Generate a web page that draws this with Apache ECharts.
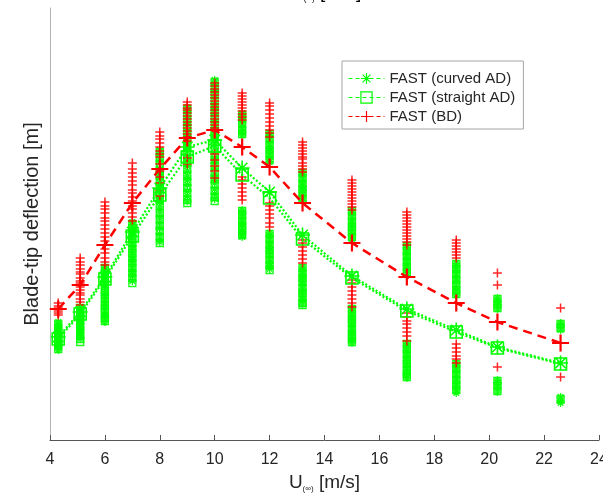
<!DOCTYPE html>
<html>
<head>
<meta charset="utf-8">
<script src="https://cdn.jsdelivr.net/npm/echarts@6/dist/echarts.min.js"></script>
<style>
  html, body { margin: 0; padding: 0; background: #fff; }
  #chart { width: 603px; height: 496px; }
</style>
</head>
<body>
<div id="chart"></div>
<script>
// Mean wind speeds of the load cases [m/s]
const windSpeeds = [4.3, 5.1, 6, 7, 8, 9, 10, 11, 12, 13.2, 15, 17, 18.8, 20.3, 22.6];
const xTicks = [4, 6, 8, 10, 12, 14, 16, 18, 20, 22, 24];

// Mean blade-tip deflection per wind speed [m]
const meanCurvedAD   = [1.03, 1.28, 1.63, 2.08, 2.52, 2.93, 3.00, 2.72, 2.48, 2.05, 1.64, 1.31, 1.10, 0.93, 0.77];
const meanStraightAD = [1.01, 1.26, 1.61, 2.04, 2.45, 2.83, 2.94, 2.65, 2.42, 2.01, 1.62, 1.29, 1.08, 0.92, 0.76];
const meanBD         = [1.31, 1.55, 1.95, 2.37, 2.71, 3.02, 3.10, 2.93, 2.73, 2.37, 1.97, 1.63, 1.37, 1.18, 0.97];

// Individual simulations (one list per wind speed) [m]
const samplesCurvedAD = [
  [1.18,1.15,1.12,1.11,1.08,1.05,1.04,1.01,0.99,0.97,0.94,0.93,0.90],
  [1.33,1.31,1.27,1.25,1.21,1.19,1.16,1.12,1.10,1.07,1.03,1.01],
  [1.73,1.70,1.66,1.63,1.58,1.55,1.52,1.47,1.44,1.40,1.36,1.33,1.28,1.25,1.22,1.18],
  [2.18,2.15,2.11,2.07,2.04,1.99,1.95,1.92,1.88,1.83,1.80,1.76,1.71,1.68,1.64,1.59],
  [2.90,2.86,2.81,2.77,2.71,2.66,2.62,2.57,2.53,2.47,2.42,2.38,2.33,2.28,2.22,2.17,2.12,2.06,2.01,1.98],
  [3.33,3.29,3.24,3.19,3.15,3.09,3.04,3.00,2.95,2.89,2.84,2.80,2.74,2.69,2.64,2.60,2.55,2.49,2.44,2.39],
  [3.60,3.56,3.51,3.47,3.42,3.36,3.32,3.27,3.21,3.17,3.12,3.06,3.02,2.97,2.92,2.87,2.81,2.77,2.72,2.66,2.62,2.57,2.51,2.46,2.41],
  [3.27,3.24,3.20,3.16,3.12,3.08,3.05,2.30,2.27,2.23,2.19,2.16,2.12,2.08,2.05,2.03],
  [3.07,3.04,3.00,2.96,2.92,2.89,2.85,2.81,2.78,2.07,2.04,2.00,1.96,1.93,1.89,1.85,1.81,1.77,1.74,1.71],
  [2.68,2.65,2.61,2.57,2.54,2.50,2.46,2.42,2.39,1.73,1.70,1.66,1.63,1.59,1.55,1.51,1.48,1.44,1.40,1.36],
  [2.30,2.27,2.23,2.19,2.16,2.12,2.08,2.04,2.01,1.32,1.29,1.25,1.22,1.18,1.14,1.10,1.07,1.03,1.00,0.97],
  [1.95,1.92,1.88,1.85,1.81,1.77,1.74,1.70,1.67,0.97,0.94,0.90,0.87,0.83,0.79,0.75,0.72,0.68,0.65,0.62],
  [1.77,1.74,1.70,1.66,1.62,1.58,1.53,1.49,1.45,0.77,0.74,0.70,0.66,0.62,0.58,0.54,0.50,0.47],
  [1.42,1.39,1.35,1.31,0.60,0.57,0.53,0.48],
  [1.17,1.14,1.10,0.43,0.39,0.37]
];
const samplesStraightAD = [
  [1.16,1.12,1.07,1.03,0.99,0.95,0.91],
  [1.32,1.28,1.23,1.19,1.14,1.10,1.05,1.01,0.98],
  [1.72,1.67,1.62,1.59,1.54,1.49,1.45,1.41,1.35,1.31,1.27,1.22,1.19],
  [2.16,2.12,2.06,2.01,1.97,1.91,1.87,1.82,1.77,1.72,1.67,1.62,1.57],
  [2.88,2.82,2.76,2.69,2.64,2.58,2.51,2.45,2.40,2.34,2.27,2.21,2.14,2.09,2.03,1.97],
  [3.31,3.25,3.18,3.12,3.07,3.01,2.94,2.88,2.82,2.77,2.71,2.64,2.58,2.52,2.47,2.40,2.37],
  [3.58,3.52,3.46,3.39,3.33,3.28,3.22,3.15,3.09,3.04,2.98,2.91,2.85,2.80,2.74,2.67,2.61,2.56,2.49,2.43,2.39],
  [3.25,3.21,3.16,3.10,3.06,2.29,2.25,2.19,2.14,2.10,2.05],
  [3.06,3.01,2.95,2.90,2.86,2.80,2.06,2.01,1.95,1.90,1.86,1.80,1.75,1.70],
  [2.67,2.62,2.56,2.51,2.47,2.41,1.72,1.67,1.62,1.58,1.52,1.47,1.43,1.37,1.35],
  [2.29,2.24,2.18,2.13,2.09,2.03,1.31,1.26,1.21,1.17,1.11,1.06,1.02,0.98],
  [1.94,1.89,1.84,1.78,1.73,1.68,0.96,0.91,0.86,0.80,0.76,0.70,0.66,0.63],
  [1.76,1.71,1.66,1.60,1.55,1.50,1.46,0.76,0.71,0.66,0.60,0.55,0.50],
  [1.41,1.36,1.32,0.59,0.54,0.49],
  [1.16,1.12,0.41]
];
const samplesBD = [
  [1.37,1.34,1.32,1.29,1.27,1.25],
  [1.82,1.78,1.75,1.71,1.68,1.66,1.62,1.59,1.57,1.53,1.50,1.47,1.45,1.41,1.38,1.35],
  [2.38,2.34,2.31,2.27,2.22,2.19,2.15,2.11,2.07,2.03,1.99,1.95,1.91,1.87,1.82,1.78,1.75],
  [2.77,2.71,2.67,2.63,2.59,2.55,2.50,2.47,2.43,2.39,2.34,2.31,2.27,2.23,2.19],
  [3.08,3.04,3.01,2.97,2.93,2.89,2.86,2.83,2.76,2.69,2.63,2.57,2.50,2.44],
  [3.38,3.35,3.32,3.30,3.27,3.24,3.21,3.18,3.15,3.12,3.09,3.06,3.03,2.99,2.82,2.76],
  [3.57,3.54,3.51,3.48,3.45,3.42,3.39,3.36,3.33,3.30,3.27,3.24,3.21,3.18,3.15,3.12,2.86,2.80,2.74,2.69,2.62],
  [3.47,3.44,3.41,3.38,3.35,3.32,3.29,3.26,3.23,3.20,2.63,2.60,2.56,2.52,2.48,2.44,2.40],
  [3.37,3.34,3.30,3.26,3.22,3.18,3.14,3.10,3.07,3.03,2.37,2.34,2.30,2.26,2.22,2.17,2.13],
  [2.98,2.95,2.92,2.89,2.86,2.83,2.81,2.77,2.74,2.71,2.68,2.00,1.97,1.93,1.89,1.85,1.81,1.77],
  [2.60,2.57,2.54,2.51,2.48,2.45,2.42,2.39,2.36,2.33,2.30,1.60,1.57,1.53,1.49,1.45,1.41,1.37,1.33],
  [2.28,2.25,2.22,2.19,2.16,2.13,2.10,2.07,2.04,2.01,1.98,1.95,1.27,1.23,1.19,1.16,1.12,1.08,1.04,0.99],
  [2.00,1.97,1.94,1.91,1.88,1.85,1.82,0.96,0.92,0.88,0.84,0.81,0.77],
  [1.67,1.55,0.73],
  [1.32,0.63]
];

const seriesNames = ['FAST (curved AD)', 'FAST (straight AD)', 'FAST (BD)'];

const GREEN = '#00ff00';
const RED = '#ff0000';
const TEXT = '#262626';
const FONT = 'Liberation Sans, Arial, sans-serif';

const PLUS = 'path://M5,0L5,10M0,5L10,5';
const STAR = 'path://M5,0L5,10M0,5L10,5M1.5,1.5L8.5,8.5M1.5,8.5L8.5,1.5';

function toPoints(samples) {
  const pts = [];
  samples.forEach((list, i) => list.forEach(v => pts.push([windSpeeds[i], v])));
  return pts;
}
function toLine(values) {
  return values.map((v, i) => [windSpeeds[i], v]);
}

const subRich = {
  m: { fontSize: 19, fontFamily: FONT, color: TEXT, lineHeight: 20, verticalAlign: 'top' },
  s: { fontSize: 8, fontFamily: FONT, color: TEXT, lineHeight: 6, verticalAlign: 'bottom' }
};

const chart = echarts.init(document.getElementById('chart'), null, { renderer: 'canvas' });
chart.setOption({
  animation: false,
  backgroundColor: '#fff',
  grid: { left: 50, right: 4, top: 8, bottom: 56, containLabel: false, outerBoundsMode: 'none' },
  graphic: [{
    type: 'text',
    left: 290,
    top: -17,
    style: {
      text: '{m|U}{s|(∞)}{m| [m/s]}',
      rich: subRich
    }
  }],
  legend: {
    orient: 'vertical',
    left: 342,
    top: 61,
    padding: [10, 8, 5, 6],
    itemGap: 4,
    itemWidth: 36,
    itemHeight: 14,
    backgroundColor: '#fff',
    borderColor: '#a6a6a6',
    borderWidth: 1,
    borderRadius: 0,
    textStyle: { fontFamily: FONT, fontSize: 15, color: TEXT },
    data: [
      { name: seriesNames[0], itemStyle: { color: 'transparent', borderColor: GREEN, borderWidth: 1.2 }, lineStyle: { color: GREEN, width: 1, type: [4, 3] } },
      { name: seriesNames[1], itemStyle: { color: 'transparent', borderColor: GREEN, borderWidth: 1.2 }, lineStyle: { color: GREEN, width: 1, type: [4, 3] } },
      { name: seriesNames[2], itemStyle: { color: 'transparent', borderColor: RED, borderWidth: 1.2 }, lineStyle: { color: RED, width: 1, type: [4, 3] } }
    ]
  },
  xAxis: {
    type: 'value',
    min: 4,
    max: 24,
    interval: 2,
    name: '{m|U}{s|(∞)}{m| [m/s]}',
    nameLocation: 'middle',
    nameGap: 32,
    nameTextStyle: { rich: subRich },
    axisLine: { onZero: false, lineStyle: { color: '#555', width: 1 } },
    axisTick: { inside: true, length: 5, lineStyle: { color: '#555' } },
    axisLabel: {
      margin: 12,
      fontFamily: FONT,
      fontSize: 16,
      color: TEXT,
      showMaxLabel: true,
      hideOverlap: false,
      formatter: v => (xTicks.includes(v) ? String(v) : '')
    },
    splitLine: { show: false }
  },
  yAxis: {
    type: 'value',
    min: 0,
    max: 4.32,
    name: 'Blade-tip deflection [m]',
    nameLocation: 'middle',
    nameGap: 8,
    nameTextStyle: { fontFamily: FONT, fontSize: 20, color: TEXT },
    axisLine: { show: true, onZero: false, lineStyle: { color: '#b4b4b4', width: 1 } },
    axisTick: { show: false },
    axisLabel: { show: false },
    splitLine: { show: false }
  },
  series: [
    {
      type: 'scatter',
      name: 'curved-samples',
      data: toPoints(samplesCurvedAD),
      symbol: STAR,
      symbolSize: 8,
      itemStyle: { color: 'transparent', borderColor: GREEN, borderWidth: 1.3, opacity: 0.9 },
      z: 2
    },
    {
      type: 'scatter',
      name: 'straight-samples',
      data: toPoints(samplesStraightAD),
      symbol: 'rect',
      symbolSize: 7,
      itemStyle: { color: 'transparent', borderColor: GREEN, borderWidth: 1.3, opacity: 0.9 },
      z: 2
    },
    {
      type: 'scatter',
      name: 'bd-samples',
      data: toPoints(samplesBD),
      symbol: PLUS,
      symbolSize: 9,
      itemStyle: { color: 'transparent', borderColor: RED, borderWidth: 1.5, opacity: 0.85 },
      z: 3
    },
    {
      type: 'line',
      name: seriesNames[0],
      data: toLine(meanCurvedAD),
      symbol: STAR,
      symbolSize: 15,
      showAllSymbol: true,
      lineStyle: { color: GREEN, width: 2.2, type: [2, 2] },
      itemStyle: { color: 'transparent', borderColor: GREEN, borderWidth: 1.6 },
      z: 5
    },
    {
      type: 'line',
      name: seriesNames[1],
      data: toLine(meanStraightAD),
      symbol: 'rect',
      symbolSize: 12,
      showAllSymbol: true,
      lineStyle: { color: GREEN, width: 2.2, type: [2, 2] },
      itemStyle: { color: 'transparent', borderColor: GREEN, borderWidth: 1.6 },
      z: 5
    },
    {
      type: 'line',
      name: seriesNames[2],
      data: toLine(meanBD),
      symbol: PLUS,
      symbolSize: 17,
      showAllSymbol: true,
      lineStyle: { color: RED, width: 2.5, type: [9, 6] },
      itemStyle: { color: 'transparent', borderColor: RED, borderWidth: 2.2 },
      z: 6
    }
  ]
});
</script>
</body>
</html>
